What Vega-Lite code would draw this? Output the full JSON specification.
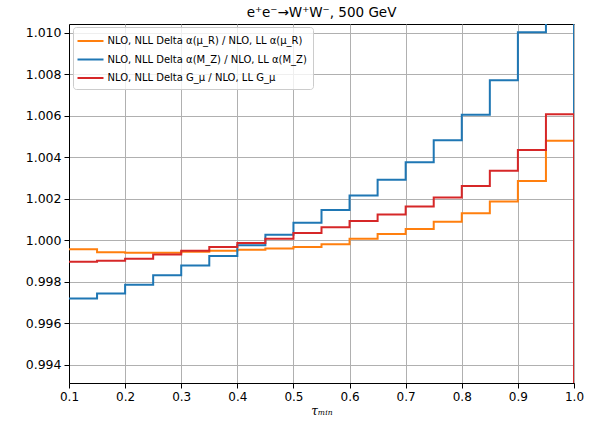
{
  "$schema": "https://vega.github.io/schema/vega-lite/v6.json",
  "autosize": {"type": "none"},
  "padding": {"left": 69, "top": 24, "right": 29, "bottom": 42},
  "width": 505,
  "height": 359,
  "background": "white",
  "config": {
    "font": "DejaVu Sans",
    "view": {"stroke": "black", "strokeWidth": 1}
  },
  "title": {
    "text": "e⁺e⁻→W⁺W⁻, 500 GeV",
    "fontSize": 13.5,
    "fontWeight": "normal",
    "color": "black",
    "offset": 5
  },
  "data": {
    "values": [
      {"s": "NLO, NLL Delta α(μ_R) / NLO, LL α(μ_R)", "k": 0, "i": 0, "x": 0.10, "y": 0.99957},
      {"s": "NLO, NLL Delta α(μ_R) / NLO, LL α(μ_R)", "k": 0, "i": 1, "x": 0.15, "y": 0.99942},
      {"s": "NLO, NLL Delta α(μ_R) / NLO, LL α(μ_R)", "k": 0, "i": 2, "x": 0.20, "y": 0.99940},
      {"s": "NLO, NLL Delta α(μ_R) / NLO, LL α(μ_R)", "k": 0, "i": 3, "x": 0.25, "y": 0.99940},
      {"s": "NLO, NLL Delta α(μ_R) / NLO, LL α(μ_R)", "k": 0, "i": 4, "x": 0.30, "y": 0.99945},
      {"s": "NLO, NLL Delta α(μ_R) / NLO, LL α(μ_R)", "k": 0, "i": 5, "x": 0.35, "y": 0.99950},
      {"s": "NLO, NLL Delta α(μ_R) / NLO, LL α(μ_R)", "k": 0, "i": 6, "x": 0.40, "y": 0.99955},
      {"s": "NLO, NLL Delta α(μ_R) / NLO, LL α(μ_R)", "k": 0, "i": 7, "x": 0.45, "y": 0.99960},
      {"s": "NLO, NLL Delta α(μ_R) / NLO, LL α(μ_R)", "k": 0, "i": 8, "x": 0.50, "y": 0.99968},
      {"s": "NLO, NLL Delta α(μ_R) / NLO, LL α(μ_R)", "k": 0, "i": 9, "x": 0.55, "y": 0.99981},
      {"s": "NLO, NLL Delta α(μ_R) / NLO, LL α(μ_R)", "k": 0, "i": 10, "x": 0.60, "y": 1.00007},
      {"s": "NLO, NLL Delta α(μ_R) / NLO, LL α(μ_R)", "k": 0, "i": 11, "x": 0.65, "y": 1.00031},
      {"s": "NLO, NLL Delta α(μ_R) / NLO, LL α(μ_R)", "k": 0, "i": 12, "x": 0.70, "y": 1.00055},
      {"s": "NLO, NLL Delta α(μ_R) / NLO, LL α(μ_R)", "k": 0, "i": 13, "x": 0.75, "y": 1.00089},
      {"s": "NLO, NLL Delta α(μ_R) / NLO, LL α(μ_R)", "k": 0, "i": 14, "x": 0.80, "y": 1.00131},
      {"s": "NLO, NLL Delta α(μ_R) / NLO, LL α(μ_R)", "k": 0, "i": 15, "x": 0.85, "y": 1.00187},
      {"s": "NLO, NLL Delta α(μ_R) / NLO, LL α(μ_R)", "k": 0, "i": 16, "x": 0.90, "y": 1.00286},
      {"s": "NLO, NLL Delta α(μ_R) / NLO, LL α(μ_R)", "k": 0, "i": 17, "x": 0.95, "y": 1.00480},
      {"s": "NLO, NLL Delta α(μ_R) / NLO, LL α(μ_R)", "k": 0, "i": 18, "x": 1.00, "y": 1.00480},
      {"s": "NLO, NLL Delta α(μ_R) / NLO, LL α(μ_R)", "k": 0, "i": 19, "x": 1.00, "y": 0.98},
      {"s": "NLO, NLL Delta α(M_Z) / NLO, LL α(M_Z)", "k": 1, "i": 0, "x": 0.10, "y": 0.99719},
      {"s": "NLO, NLL Delta α(M_Z) / NLO, LL α(M_Z)", "k": 1, "i": 1, "x": 0.15, "y": 0.99743},
      {"s": "NLO, NLL Delta α(M_Z) / NLO, LL α(M_Z)", "k": 1, "i": 2, "x": 0.20, "y": 0.99786},
      {"s": "NLO, NLL Delta α(M_Z) / NLO, LL α(M_Z)", "k": 1, "i": 3, "x": 0.25, "y": 0.99831},
      {"s": "NLO, NLL Delta α(M_Z) / NLO, LL α(M_Z)", "k": 1, "i": 4, "x": 0.30, "y": 0.99878},
      {"s": "NLO, NLL Delta α(M_Z) / NLO, LL α(M_Z)", "k": 1, "i": 5, "x": 0.35, "y": 0.99924},
      {"s": "NLO, NLL Delta α(M_Z) / NLO, LL α(M_Z)", "k": 1, "i": 6, "x": 0.40, "y": 0.99976},
      {"s": "NLO, NLL Delta α(M_Z) / NLO, LL α(M_Z)", "k": 1, "i": 7, "x": 0.45, "y": 1.00027},
      {"s": "NLO, NLL Delta α(M_Z) / NLO, LL α(M_Z)", "k": 1, "i": 8, "x": 0.50, "y": 1.00085},
      {"s": "NLO, NLL Delta α(M_Z) / NLO, LL α(M_Z)", "k": 1, "i": 9, "x": 0.55, "y": 1.00146},
      {"s": "NLO, NLL Delta α(M_Z) / NLO, LL α(M_Z)", "k": 1, "i": 10, "x": 0.60, "y": 1.00216},
      {"s": "NLO, NLL Delta α(M_Z) / NLO, LL α(M_Z)", "k": 1, "i": 11, "x": 0.65, "y": 1.00292},
      {"s": "NLO, NLL Delta α(M_Z) / NLO, LL α(M_Z)", "k": 1, "i": 12, "x": 0.70, "y": 1.00376},
      {"s": "NLO, NLL Delta α(M_Z) / NLO, LL α(M_Z)", "k": 1, "i": 13, "x": 0.75, "y": 1.00482},
      {"s": "NLO, NLL Delta α(M_Z) / NLO, LL α(M_Z)", "k": 1, "i": 14, "x": 0.80, "y": 1.00606},
      {"s": "NLO, NLL Delta α(M_Z) / NLO, LL α(M_Z)", "k": 1, "i": 15, "x": 0.85, "y": 1.00772},
      {"s": "NLO, NLL Delta α(M_Z) / NLO, LL α(M_Z)", "k": 1, "i": 16, "x": 0.90, "y": 1.01003},
      {"s": "NLO, NLL Delta α(M_Z) / NLO, LL α(M_Z)", "k": 1, "i": 17, "x": 0.95, "y": 1.01250},
      {"s": "NLO, NLL Delta α(M_Z) / NLO, LL α(M_Z)", "k": 1, "i": 18, "x": 1.00, "y": 1.01250},
      {"s": "NLO, NLL Delta α(M_Z) / NLO, LL α(M_Z)", "k": 1, "i": 19, "x": 1.00, "y": 0.98},
      {"s": "NLO, NLL Delta G_μ / NLO, LL G_μ", "k": 2, "i": 0, "x": 0.10, "y": 0.99897},
      {"s": "NLO, NLL Delta G_μ / NLO, LL G_μ", "k": 2, "i": 1, "x": 0.15, "y": 0.99902},
      {"s": "NLO, NLL Delta G_μ / NLO, LL G_μ", "k": 2, "i": 2, "x": 0.20, "y": 0.99911},
      {"s": "NLO, NLL Delta G_μ / NLO, LL G_μ", "k": 2, "i": 3, "x": 0.25, "y": 0.99932},
      {"s": "NLO, NLL Delta G_μ / NLO, LL G_μ", "k": 2, "i": 4, "x": 0.30, "y": 0.99950},
      {"s": "NLO, NLL Delta G_μ / NLO, LL G_μ", "k": 2, "i": 5, "x": 0.35, "y": 0.99968},
      {"s": "NLO, NLL Delta G_μ / NLO, LL G_μ", "k": 2, "i": 6, "x": 0.40, "y": 0.99987},
      {"s": "NLO, NLL Delta G_μ / NLO, LL G_μ", "k": 2, "i": 7, "x": 0.45, "y": 1.00008},
      {"s": "NLO, NLL Delta G_μ / NLO, LL G_μ", "k": 2, "i": 8, "x": 0.50, "y": 1.00035},
      {"s": "NLO, NLL Delta G_μ / NLO, LL G_μ", "k": 2, "i": 9, "x": 0.55, "y": 1.00063},
      {"s": "NLO, NLL Delta G_μ / NLO, LL G_μ", "k": 2, "i": 10, "x": 0.60, "y": 1.00093},
      {"s": "NLO, NLL Delta G_μ / NLO, LL G_μ", "k": 2, "i": 11, "x": 0.65, "y": 1.00124},
      {"s": "NLO, NLL Delta G_μ / NLO, LL G_μ", "k": 2, "i": 12, "x": 0.70, "y": 1.00163},
      {"s": "NLO, NLL Delta G_μ / NLO, LL G_μ", "k": 2, "i": 13, "x": 0.75, "y": 1.00206},
      {"s": "NLO, NLL Delta G_μ / NLO, LL G_μ", "k": 2, "i": 14, "x": 0.80, "y": 1.00262},
      {"s": "NLO, NLL Delta G_μ / NLO, LL G_μ", "k": 2, "i": 15, "x": 0.85, "y": 1.00336},
      {"s": "NLO, NLL Delta G_μ / NLO, LL G_μ", "k": 2, "i": 16, "x": 0.90, "y": 1.00436},
      {"s": "NLO, NLL Delta G_μ / NLO, LL G_μ", "k": 2, "i": 17, "x": 0.95, "y": 1.00608},
      {"s": "NLO, NLL Delta G_μ / NLO, LL G_μ", "k": 2, "i": 18, "x": 1.00, "y": 1.00608},
      {"s": "NLO, NLL Delta G_μ / NLO, LL G_μ", "k": 2, "i": 19, "x": 1.00, "y": 0.98}
    ]
  },
  "mark": {"type": "line", "interpolate": "step-after", "strokeWidth": 2, "clip": true},
  "encoding": {
    "x": {
      "field": "x",
      "type": "quantitative",
      "scale": {"domain": [0.1, 1.0], "nice": false, "zero": false},
      "axis": {
        "title": "τₘᵢₙ",
        "titleFont": "DejaVu Serif",
        "titleFontStyle": "italic",
        "titleFontWeight": "normal",
        "titleFontSize": 12,
        "titleColor": "black",
        "titlePadding": 3,
        "values": [0.1, 0.2, 0.3, 0.4, 0.5, 0.6, 0.7, 0.8, 0.9, 1.0],
        "format": ".1f",
        "labelFontSize": 12,
        "labelColor": "black",
        "labelPadding": 3,
        "labelFlush": false,
        "tickColor": "black",
        "tickSize": 5,
        "domainColor": "black",
        "gridColor": "#b0b0b0",
        "gridWidth": 1,
        "gridOpacity": 1
      }
    },
    "y": {
      "field": "y",
      "type": "quantitative",
      "scale": {"domain": [0.99312, 1.01043], "nice": false, "zero": false},
      "axis": {
        "title": null,
        "values": [0.994, 0.996, 0.998, 1.0, 1.002, 1.004, 1.006, 1.008, 1.01],
        "format": ".3f",
        "labelFontSize": 12.5,
        "labelColor": "black",
        "labelPadding": 3,
        "labelFlush": false,
        "tickColor": "black",
        "tickSize": 5,
        "domainColor": "black",
        "gridColor": "#b0b0b0",
        "gridWidth": 1,
        "gridOpacity": 1
      }
    },
    "color": {
      "field": "s",
      "type": "nominal",
      "scale": {
        "domain": ["NLO, NLL Delta α(μ_R) / NLO, LL α(μ_R)", "NLO, NLL Delta α(M_Z) / NLO, LL α(M_Z)", "NLO, NLL Delta G_μ / NLO, LL G_μ"],
        "range": ["#ff7f0e", "#1f77b4", "#d62728"]
      },
      "legend": {
        "title": null,
        "orient": "none",
        "legendX": 4,
        "legendY": 3,
        "symbolType": "M-1.857,0H1.857",
        "symbolSize": 196,
        "symbolOffset": 3.5,
        "symbolStrokeWidth": 2,
        "labelFontSize": 10,
        "labelColor": "black",
        "labelLimit": 400,
        "labelOffset": 9,
        "rowPadding": 5.5,
        "padding": 6,
        "fillColor": "rgba(255,255,255,0.8)",
        "strokeColor": "#cccccc",
        "cornerRadius": 3
      }
    },
    "order": {"field": "i", "type": "quantitative"}
  }
}
